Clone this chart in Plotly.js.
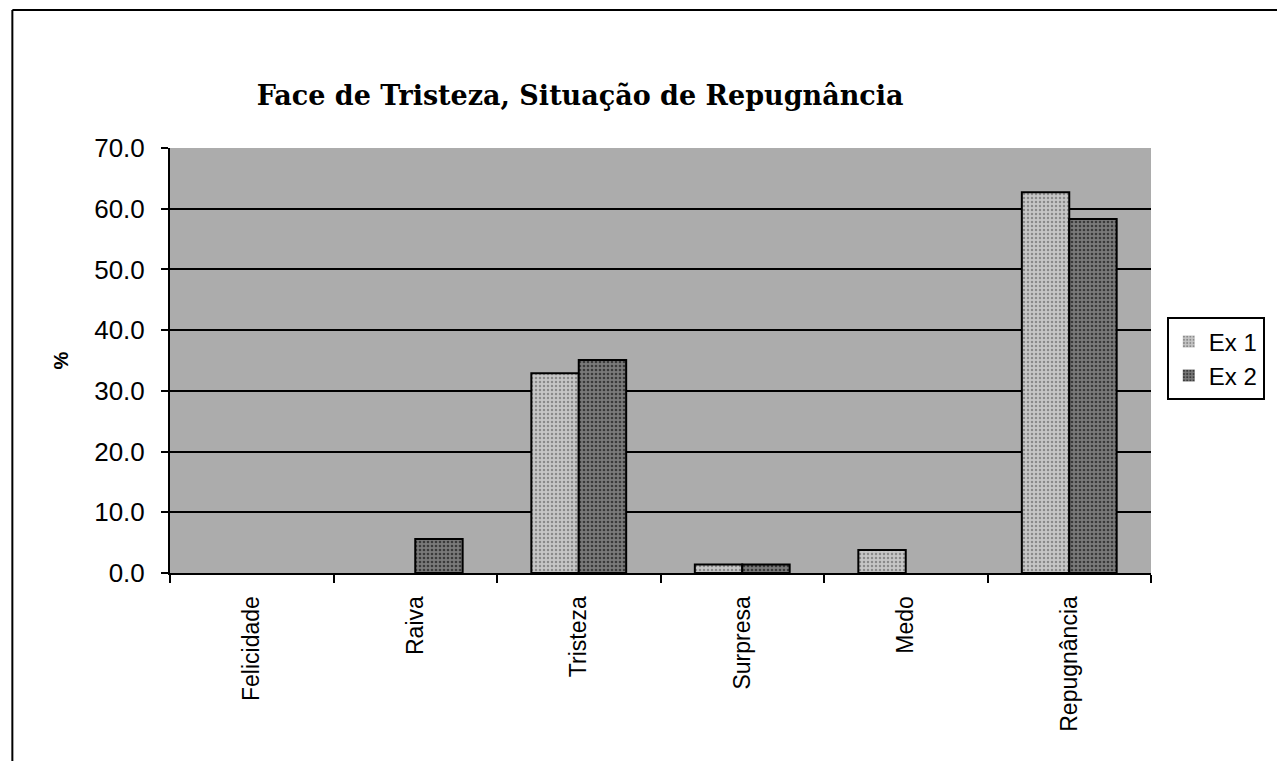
<!DOCTYPE html>
<html>
<head>
<meta charset="utf-8">
<script src="https://cdn.plot.ly/plotly-3.0.1.min.js"></script>
<style>html,body{margin:0;padding:0;background:#fff;}#chart{width:1277px;height:761px;}</style>
</head>
<body>
<div id="chart"></div>
<script>
const categories = ["Felicidade", "Raiva", "Tristeza", "Surpresa", "Medo", "Repugnância"];
const ex1Values = [0.0, 0.0, 32.9, 1.4, 3.8, 62.7];
const ex2Values = [0.0, 5.6, 35.1, 1.4, 0.0, 58.3];
const seriesNames = ["Ex 1", "Ex 2"];
const yTickVals = [0, 10, 20, 30, 40, 50, 60, 70];

const outline = vals => vals.map(v => (v > 0 ? 2 : 0));

const traces = [
  {
    type: 'bar', name: seriesNames[0], x: categories, y: ex1Values,
    marker: {color: '#c6c6c6', line: {color: '#000', width: outline(ex1Values)},
             pattern: {shape: '.', fgcolor: '#8a8a8a', bgcolor: '#c6c6c6', size: 4, solidity: 0.3}},
    hoverinfo: 'skip'
  },
  {
    type: 'bar', name: seriesNames[1], x: categories, y: ex2Values,
    marker: {color: '#6e6e6e', line: {color: '#000', width: outline(ex2Values)},
             pattern: {shape: '.', fgcolor: '#3a3a3a', bgcolor: '#7a7a7a', size: 4, solidity: 0.35}},
    hoverinfo: 'skip'
  }
];

const layout = {
  width: 1277, height: 761,
  margin: {l: 170, r: 124, t: 148, b: 188},
  paper_bgcolor: '#ffffff',
  plot_bgcolor: '#acacac',
  barmode: 'group', bargap: 0.42, bargroupgap: 0,
  showlegend: true,
  title: {
    text: '<b>Face de Tristeza, Situação de Repugnância</b>',
    font: {family: 'DejaVu Serif', size: 27, color: '#000'},
    x: 0.418, xanchor: 'center', xref: 'paper',
    y: 1 - 96/761, yref: 'container', yanchor: 'middle'
  },
  xaxis: {
    type: 'category',
    showgrid: false,
    showline: true, linecolor: '#000', linewidth: 2,
    ticks: 'outside', tickson: 'boundaries', ticklen: 8, tickwidth: 2, tickcolor: '#000',
    tickangle: -90, ticklabelstandoff: 12,
    tickfont: {family: 'Liberation Sans, Arial', size: 23, color: '#000'},
    fixedrange: true
  },
  yaxis: {
    range: [0, 70],
    tickvals: yTickVals,
    tickformat: '.1f',
    showgrid: true, gridcolor: '#000', gridwidth: 2,
    zeroline: false,
    showline: true, linecolor: '#000', linewidth: 2,
    ticks: 'outside', ticklen: 7, tickwidth: 2, tickcolor: '#000',
    ticklabelstandoff: 11,
    tickfont: {family: 'Liberation Sans, Arial', size: 26, color: '#000'},
    title: {text: '<b>%</b>', font: {family: 'Liberation Sans, Arial', size: 20, color: '#000'}, standoff: 20},
    fixedrange: true
  },
  legend: {
    x: (1267 - 170) / 983, xanchor: 'right', y: 0.504, yanchor: 'middle',
    bgcolor: '#fff', bordercolor: '#000', borderwidth: 2,
    font: {family: 'Liberation Sans, Arial', size: 24, color: '#000'},
    itemwidth: 30, tracegroupgap: 0
  },
  shapes: [
    {type: 'line', xref: 'paper', yref: 'paper', x0: -0.1607, x1: -0.1607, y0: 1.3247, y1: -0.5,
     line: {color: '#000', width: 2}},
    {type: 'line', xref: 'paper', yref: 'paper', x0: -0.1607, x1: 1.2, y0: 1.3247, y1: 1.3247,
     line: {color: '#000', width: 2}}
  ]
};

Plotly.newPlot('chart', traces, layout, {displayModeBar: false, staticPlot: true});
</script>
</body>
</html>
